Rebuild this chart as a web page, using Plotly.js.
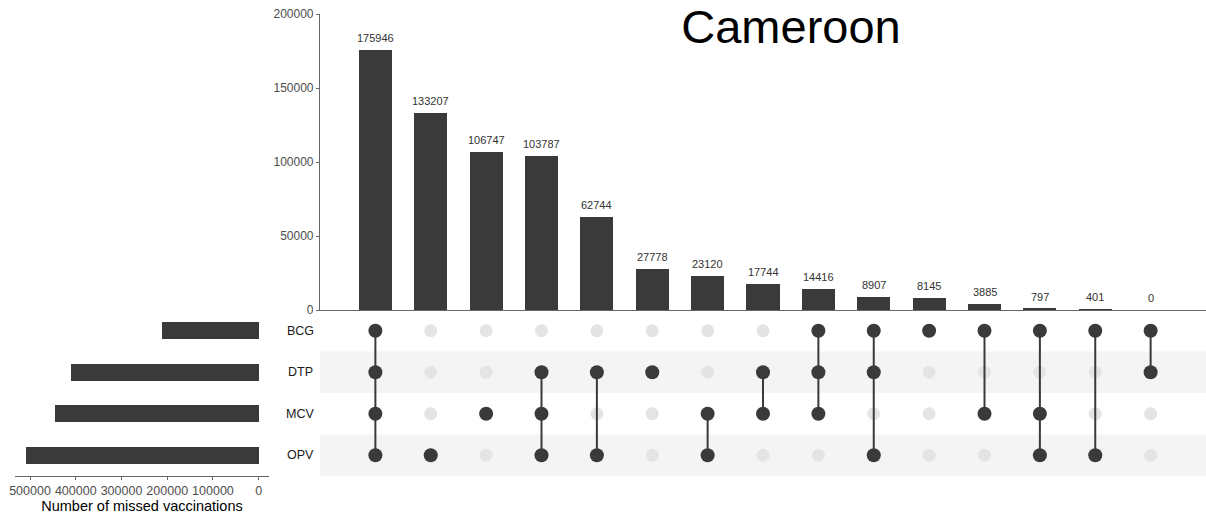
<!DOCTYPE html>
<html>
<head>
<meta charset="utf-8">
<script src="https://cdn.plot.ly/plotly-3.0.1.min.js"></script>
<style>html,body{margin:0;padding:0;background:#fff;}#chart{width:1206px;height:516px;}</style>
</head>
<body>
<div id="chart"></div>
<script>
// ---- data ----
const chartTitle = 'Cameroon';
const setNames = ['BCG', 'DTP', 'MCV', 'OPV'];
const setTotals = [212497, 411322, 446442, 508909];
const comboCounts = [175946, 133207, 106747, 103787, 62744, 27778, 23120, 17744, 14416, 8907, 8145, 3885, 797, 401, 0];
const comboSets = [
  ['BCG', 'DTP', 'MCV', 'OPV'],
  ['OPV'],
  ['MCV'],
  ['DTP', 'MCV', 'OPV'],
  ['DTP', 'OPV'],
  ['DTP'],
  ['MCV', 'OPV'],
  ['DTP', 'MCV'],
  ['BCG', 'DTP', 'MCV'],
  ['BCG', 'DTP', 'OPV'],
  ['BCG'],
  ['BCG', 'MCV'],
  ['BCG', 'MCV', 'OPV'],
  ['BCG', 'OPV'],
  ['BCG', 'DTP']
];
const topTicks = [0, 50000, 100000, 150000, 200000];
const leftTicks = [500000, 400000, 300000, 200000, 100000, 0];
const leftAxisTitle = 'Number of missed vaccinations';

// ---- geometry helpers ----
const W = 1206, H = 516;
const px = v => v / W;
const py = v => 1 - v / H;
const FONT = '"Liberation Sans", Arial, sans-serif';
const DARK = '#3a3a3a';

const rowOf = name => setNames.length - 1 - setNames.indexOf(name);
const comboIdx = comboCounts.map((_, i) => i);

const traces = [];

// top intersection bars
traces.push({
  type: 'bar', x: comboIdx, y: comboCounts, width: 0.6,
  marker: {color: DARK, line: {width: 0}},
  xaxis: 'x', yaxis: 'y', hoverinfo: 'x+y', showlegend: false
});

// matrix dots and connectors
const inX = [], inY = [], acX = [], acY = [], lnX = [], lnY = [];
comboSets.forEach((sets, i) => {
  setNames.forEach(n => {
    if (sets.indexOf(n) >= 0) { acX.push(i); acY.push(rowOf(n)); }
    else { inX.push(i); inY.push(rowOf(n)); }
  });
  const rows = sets.map(rowOf);
  if (rows.length > 1) {
    lnX.push(i, i, null);
    lnY.push(Math.min(...rows), Math.max(...rows), null);
  }
});
traces.push({type: 'scatter', mode: 'markers', x: inX, y: inY, xaxis: 'x2', yaxis: 'y2',
  marker: {color: '#e4e4e4', size: 13}, hoverinfo: 'skip', showlegend: false});
traces.push({type: 'scatter', mode: 'lines', x: lnX, y: lnY, xaxis: 'x2', yaxis: 'y2',
  line: {color: DARK, width: 2}, hoverinfo: 'skip', showlegend: false, connectgaps: false});
traces.push({type: 'scatter', mode: 'markers', x: acX, y: acY, xaxis: 'x2', yaxis: 'y2',
  marker: {color: DARK, size: 14}, hoverinfo: 'skip', showlegend: false});

// left set-size bars
traces.push({
  type: 'bar', orientation: 'h', x: setTotals, y: setNames.map(rowOf), width: 0.4,
  marker: {color: DARK, line: {width: 0}},
  xaxis: 'x3', yaxis: 'y3', hoverinfo: 'x', showlegend: false
});

// shapes: stripes on alternate rows
const shapes = [];
setNames.forEach(n => {
  const r = rowOf(n);
  if (r % 2 === 0) {
    shapes.push({type: 'rect', layer: 'below', xref: 'x2 domain', yref: 'y2',
      x0: 0, x1: 1, y0: r - 0.5, y1: r + 0.5, fillcolor: '#f4f4f4', line: {width: 0}});
  }
});

// annotations: value labels + set names
const annotations = [];
comboCounts.forEach((v, i) => {
  annotations.push({xref: 'x', yref: 'y', x: i, y: v, text: String(v), showarrow: false,
    yanchor: 'bottom', yshift: 4, font: {family: FONT, size: 11, color: '#333333'}});
});
setNames.forEach(n => {
  annotations.push({xref: 'paper', yref: 'y2', x: px(300), y: rowOf(n), text: n, showarrow: false,
    xanchor: 'center', yanchor: 'middle', font: {family: FONT, size: 12.5, color: '#1a1a1a'}});
});

const topDom = [py(310), py(14)];
const matDom = [py(476), py(310)];

const layout = {
  width: W, height: H,
  margin: {l: 0, r: 0, t: 0, b: 0, pad: 0},
  paper_bgcolor: '#fff', plot_bgcolor: 'rgba(0,0,0,0)',
  showlegend: false,
  title: {text: chartTitle, x: px(791), xanchor: 'center', xref: 'paper',
    y: py(27), yanchor: 'middle', yref: 'paper',
    font: {family: FONT, size: 47, color: '#000'}},
  font: {family: FONT},
  xaxis: {domain: [px(320), 1], range: [-1, 15], anchor: 'y',
    showgrid: false, zeroline: false, showticklabels: false, ticks: '',
    showline: true, linecolor: '#666', linewidth: 1.2, fixedrange: true},
  yaxis: {domain: topDom, range: [0, 200000], anchor: 'x',
    tickvals: topTicks, ticktext: topTicks.map(String),
    showgrid: false, zeroline: false, showline: true, linecolor: '#666', linewidth: 1.2,
    ticks: 'outside', ticklen: 3, tickcolor: '#666', tickwidth: 1,
    tickfont: {family: FONT, size: 12, color: '#4d4d4d'}, fixedrange: true},
  xaxis2: {domain: [px(320), 1], range: [-1, 15], anchor: 'y2',
    showgrid: false, zeroline: false, showticklabels: false, showline: false, ticks: '', fixedrange: true},
  yaxis2: {domain: matDom, range: [-0.5, 3.5], anchor: 'x2',
    showgrid: false, zeroline: false, showticklabels: false, showline: false, ticks: '', fixedrange: true},
  xaxis3: {domain: [px(15), px(269)], range: [532800, -22500], anchor: 'y3',
    tickvals: leftTicks, ticktext: leftTicks.map(String),
    showgrid: false, zeroline: false, showline: true, linecolor: '#666', linewidth: 1.2,
    ticks: 'outside', ticklen: 3, tickcolor: '#666', tickwidth: 1,
    tickfont: {family: FONT, size: 12.5, color: '#4d4d4d'},
    title: {text: leftAxisTitle, font: {family: FONT, size: 14.5, color: '#000'}, standoff: 3},
    fixedrange: true},
  yaxis3: {domain: matDom, range: [-0.5, 3.5], anchor: 'x3',
    showgrid: false, zeroline: false, showticklabels: false, showline: false, ticks: '', fixedrange: true},
  shapes: shapes,
  annotations: annotations,
  bargap: 0
};

Plotly.newPlot('chart', traces, layout, {displayModeBar: false, staticPlot: false});
</script>
</body>
</html>
